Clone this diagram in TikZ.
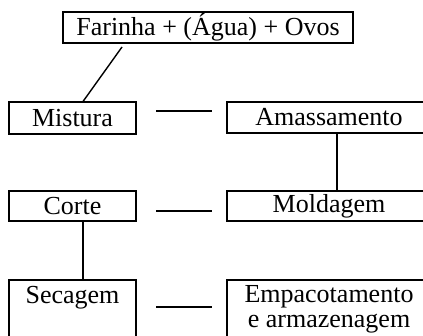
\documentclass[tikz,border=0pt]{standalone}
\usepackage{fontspec}
\setmainfont{Liberation Serif}
\begin{document}
\begin{tikzpicture}[x=1pt,y=-1pt,
  box/.style={draw, line width=1.7pt, rectangle, inner sep=0pt, font=\fontsize{26}{28}\selectfont},
  txt/.style={inner sep=0pt, anchor=base, font=\fontsize{26}{28}\selectfont},
  conn/.style={line width=1.4pt}]
\useasboundingbox (0,0) rectangle (423,336);
\clip (0,0) rectangle (423,336);
% boxes
\node[box, minimum width=290pt, minimum height=31pt] (top) at (208,27.5) {Farinha + (Água) + Ovos};
\node[box, minimum width=127pt, minimum height=32pt] (mis) at (72.5,118) {Mistura};
\node[box, minimum width=204pt, minimum height=31pt] (ama) at (329,117.5) {Amassamento};
\node[box, minimum width=127pt, minimum height=30pt] (cor) at (72.5,206) {Corte};
\node[box, minimum width=204pt, minimum height=30pt] (mol) at (329,206) {Moldagem};
\node[box, minimum width=127pt, minimum height=70pt] (sec) at (72.5,315) {};
\node[box, minimum width=204pt, minimum height=70pt] (emp) at (329,315) {};
\node[txt] (sect) at (72.5,304) {Secagem};
\node[txt] (empt1) at (329,303) {Empacotamento};
\node[txt] (empt2) at (329,328) {e armazenagem};
% connectors
\coordinate (d1) at (122,47);
\coordinate (d2) at (83,101.5);
\draw[conn] (d1) -- (d2);
\coordinate (h1a) at (156,111);
\coordinate (h1b) at (212,111);
\draw[conn] (h1a) -- (h1b);
\draw[conn] (ama.south -| 337,0) -- (mol.north -| 337,0);
\coordinate (h2a) at (156,211);
\coordinate (h2b) at (212,211);
\draw[conn] (h2a) -- (h2b);
\draw[conn] (cor.south -| 83,0) -- (sec.north -| 83,0);
\coordinate (h3a) at (156,307);
\coordinate (h3b) at (212,307);
\draw[conn] (h3a) -- (h3b);
\end{tikzpicture}
\end{document}
